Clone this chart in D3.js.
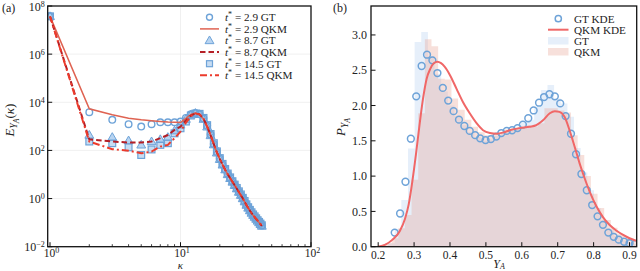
<!DOCTYPE html>
<html><head><meta charset="utf-8">
<script src="https://cdn.jsdelivr.net/npm/d3@7"></script>
<style>
body{margin:0;background:#fff}
svg{display:block}
text{font-family:"Liberation Serif","DejaVu Serif",serif;fill:#222}
</style>
</head><body>
<svg id="c" width="640" height="271"></svg>
<script>
// ---------- Panel (a) data: log10 E_{Y_A}(kappa) ----------
const kappa = [1,2,3,4,5,6,7,8,9,10,11,12,13,14,15,16,17,18,19,20,21,22,23,24,25,26,27,28,29,30,31,32,33,34,35,36,37,38,39,40,41,42];
const gt29 = [7.57,3.59,3.27,3.09,2.99,3.09,3.17,3.17,3.17,3.2,3.35,3.5,3.55,3.5,3.33,3.02,2.66,2.27,1.93,1.66,1.42,1.21,1.02,0.86,0.71,0.56,0.42,0.28,0.15,0.02,-0.12,-0.26,-0.38,-0.49,-0.59,-0.68,-0.76,-0.84,-0.91,-0.98,-1.05,-1.12];
const gt87 = [7.57,2.64,2.55,2.41,2.23,2.37,2.46,2.55,2.82,3.06,3.3,3.48,3.55,3.5,3.3,2.98,2.62,2.24,1.9,1.63,1.4,1.2,1.0,0.84,0.69,0.55,0.41,0.27,0.14,0.0,-0.13,-0.27,-0.39,-0.5,-0.6,-0.69,-0.77,-0.85,-0.93,-1.0,-1.07,-1.14];
const gt145 = [7.57,2.37,2.3,2.13,1.81,2.04,2.23,2.3,2.71,2.92,3.2,3.45,3.53,3.52,3.35,3.05,2.68,2.3,1.96,1.68,1.44,1.23,1.04,0.88,0.72,0.58,0.44,0.3,0.17,0.03,-0.1,-0.24,-0.36,-0.47,-0.57,-0.66,-0.74,-0.82,-0.9,-0.97,-1.04,-1.11];
const qkm29 = [7.57,3.73,3.48,3.34,3.27,3.23,3.2,3.18,3.17,3.16,3.33,3.5,3.55,3.5,3.3,2.98,2.62,2.25,1.92,1.65,1.41,1.2,1.01,0.85,0.7,0.55,0.41,0.27,0.14,0.01,-0.13,-0.27,-0.39,-0.5,-0.6,-0.69,-0.77,-0.85,-0.92,-0.99,-1.06,-1.13];
const qkm87 = [7.57,2.46,2.37,2.33,2.33,2.37,2.51,2.64,2.85,2.99,3.25,3.45,3.53,3.5,3.32,3.0,2.64,2.26,1.92,1.65,1.41,1.2,1.01,0.85,0.7,0.55,0.41,0.27,0.14,0.01,-0.13,-0.27,-0.39,-0.5,-0.6,-0.69,-0.77,-0.85,-0.92,-0.99,-1.06,-1.14];
const qkm145 = [7.57,2.37,2.05,1.99,1.88,1.95,2.16,2.23,2.51,2.78,3.15,3.42,3.53,3.5,3.32,3.0,2.64,2.26,1.92,1.65,1.41,1.2,1.01,0.85,0.7,0.55,0.41,0.27,0.14,0.01,-0.13,-0.27,-0.39,-0.5,-0.6,-0.69,-0.77,-0.85,-0.92,-0.99,-1.06,-1.15];
const aXTickExp = [0,1,2];
const aYTickExp = [-2,0,2,4,6,8];
const aLegend = ["2.9 GT","2.9 QKM","8.7 GT","8.7 QKM","14.5 GT","14.5 QKM"];

// ---------- Panel (b) data ----------
const gtEdges = [0.2275,0.246,0.2645,0.283,0.3015,0.32,0.3385,0.357,0.3755,0.394,0.4125,0.431,0.4495,0.468,0.4865,0.505,0.5235,0.542,0.5605,0.579,0.5975,0.616,0.6345,0.653,0.6715,0.69,0.7085,0.727,0.7455,0.764,0.7825,0.801,0.8195,0.838,0.8565,0.875,0.8935,0.912,0.9305];
const gtHist = [0.05,0.25,0.66,1.39,2.9,3.04,2.7,2.45,2.2,2.0,1.85,1.72,1.62,1.55,1.5,1.52,1.57,1.62,1.66,1.68,1.76,1.8,1.98,2.22,2.29,2.1,2.03,1.84,1.4,1.05,0.8,0.55,0.38,0.25,0.15,0.09,0.06,0.04];
const qkmEdges = [0.2005,0.219,0.2375,0.256,0.2745,0.293,0.3115,0.33,0.3485,0.367,0.3855,0.404,0.4225,0.441,0.4595,0.478,0.4965,0.515,0.5335,0.552,0.5705,0.589,0.6075,0.626,0.6445,0.663,0.6815,0.7,0.7185,0.737,0.7555,0.774,0.7925,0.811,0.8295,0.848,0.8665,0.885,0.9035,0.922];
const qkmHist = [0.02,0.05,0.12,0.26,0.45,0.95,1.89,2.94,2.84,2.38,2.37,2.1,1.94,1.8,1.7,1.62,1.58,1.6,1.62,1.66,1.68,1.7,1.72,1.7,1.75,1.96,1.96,1.93,1.9,1.58,1.3,1.0,0.75,0.55,0.38,0.27,0.18,0.12,0.08];
const gtKdeX = [0.246,0.261,0.276,0.291,0.306,0.321,0.336,0.351,0.365,0.380,0.395,0.410,0.425,0.440,0.455,0.470,0.484,0.499,0.514,0.529,0.543,0.558,0.573,0.588,0.603,0.618,0.633,0.648,0.662,0.677,0.692,0.707,0.722,0.737,0.751,0.766,0.781,0.796,0.811,0.826,0.841,0.856,0.870,0.885,0.900,0.915];
const gtKdeY = [0.20,0.47,0.92,1.53,2.13,2.56,2.72,2.64,2.46,2.25,2.07,1.92,1.80,1.71,1.64,1.58,1.535,1.51,1.525,1.56,1.61,1.64,1.65,1.68,1.73,1.82,1.93,2.04,2.12,2.16,2.13,2.03,1.85,1.60,1.31,1.03,0.80,0.59,0.43,0.31,0.20,0.14,0.10,0.07,0.05,0.04];
const qkmKdeX = [0.20,0.22,0.24,0.26,0.275,0.285,0.295,0.305,0.315,0.325,0.335,0.345,0.355,0.365,0.375,0.385,0.40,0.418,0.436,0.455,0.474,0.492,0.511,0.53,0.55,0.566,0.594,0.622,0.64,0.659,0.678,0.692,0.705,0.719,0.733,0.747,0.761,0.775,0.789,0.807,0.826,0.844,0.863,0.881,0.90,0.918];
const qkmKdeY = [0.0,0.03,0.1,0.22,0.4,0.6,0.92,1.3,1.72,2.1,2.38,2.52,2.6,2.62,2.6,2.55,2.43,2.24,2.05,1.89,1.75,1.65,1.61,1.60,1.62,1.65,1.68,1.70,1.72,1.79,1.89,1.92,1.91,1.84,1.65,1.42,1.18,0.97,0.78,0.58,0.42,0.31,0.23,0.17,0.12,0.085];
const bXTicks = [0.2,0.3,0.4,0.5,0.6,0.7,0.8,0.9];
const bYTicks = [0,0.5,1.0,1.5,2.0,2.5,3.0];
const bLegend = ["GT KDE","QKM KDE","GT","QKM"];

// ---------- styles ----------
const BLUE = "#6ea3d8", BLUE_FILL = "rgba(130,178,226,0.45)";
const C29 = "#df6352", C87 = "#b51f26", C145 = "#ec3b2c";
const KDE_RED = "#f06767";
const GT_HIST = "#e6effa", QKM_HIST = "rgba(232,165,150,0.34)";

const svg = d3.select("#c");
const E = v => Math.pow(10, v);

// ================= Panel (a) =================
const aL = 47.7, aR = 311, aT = 6, aB = 246.7;
const xA = d3.scaleLog().domain([0.96, 100]).range([aL, aR]);
const yA = d3.scaleLog().domain([1e-2, 1e8]).range([aB, aT]);
const gA = svg.append("g");

// grid
gA.selectAll("line.gx").data([10]).join("line")
  .attr("x1", d => xA(d)).attr("x2", d => xA(d)).attr("y1", aT).attr("y2", aB)
  .attr("stroke", "#ececec").attr("stroke-width", 0.8);
gA.selectAll("line.gy").data([0,2,4,6]).join("line")
  .attr("y1", d => yA(E(d))).attr("y2", d => yA(E(d))).attr("x1", aL).attr("x2", aR)
  .attr("stroke", "#ececec").attr("stroke-width", 0.8);

svg.append("clipPath").attr("id", "clipA").append("rect")
  .attr("x", aL).attr("y", aT).attr("width", aR - aL).attr("height", aB - aT);
const plotA = gA.append("g").attr("clip-path", "url(#clipA)");

const pts = arr => arr.map((v, i) => [kappa[i], E(v)]);

// markers
plotA.append("g").selectAll("rect").data(pts(gt145)).join("rect")
  .attr("x", d => xA(d[0]) - 3.4).attr("y", d => yA(d[1]) - 3.4)
  .attr("width", 6.8).attr("height", 6.8)
  .attr("fill", BLUE_FILL).attr("stroke", BLUE).attr("stroke-width", 1.2);
const tri = d3.symbol().type(d3.symbolTriangle).size(34);
plotA.append("g").selectAll("path").data(pts(gt87)).join("path")
  .attr("d", tri).attr("transform", d => `translate(${xA(d[0])},${yA(d[1]) + 0.6})`)
  .attr("fill", "rgba(160,198,236,0.75)").attr("stroke", BLUE).attr("stroke-width", 1);
plotA.append("g").selectAll("circle").data(pts(gt29)).join("circle")
  .attr("cx", d => xA(d[0])).attr("cy", d => yA(d[1])).attr("r", 3.3)
  .attr("fill", "none").attr("stroke", BLUE).attr("stroke-width", 1.4);

// lines
const lineA = d3.line().x(d => xA(d[0])).y(d => yA(d[1]));
plotA.append("path").attr("d", lineA(pts(qkm29))).attr("fill", "none")
  .attr("stroke", C29).attr("stroke-width", 1.5);
plotA.append("path").attr("d", lineA(pts(qkm87))).attr("fill", "none")
  .attr("stroke", C87).attr("stroke-width", 2).attr("stroke-dasharray", "5.5,3");
plotA.append("path").attr("d", lineA(pts(qkm145))).attr("fill", "none")
  .attr("stroke", C145).attr("stroke-width", 2).attr("stroke-dasharray", "7,3,2,3");

// frame
gA.append("rect").attr("x", aL).attr("y", aT).attr("width", aR - aL).attr("height", aB - aT)
  .attr("fill", "none").attr("stroke", "#111").attr("stroke-width", 1.3);

// x ticks (major + minor)
const minorX = [];
[1, 10].forEach(b => { for (let m = 2; m <= 9; m++) minorX.push(b * m); });
gA.selectAll("line.mx").data(minorX).join("line")
  .attr("x1", d => xA(d)).attr("x2", d => xA(d)).attr("y1", aB).attr("y2", aB - 2.5)
  .attr("stroke", "#111").attr("stroke-width", 0.8);
gA.selectAll("line.Mx").data(aXTickExp).join("line")
  .attr("x1", d => xA(E(d))).attr("x2", d => xA(E(d))).attr("y1", aB).attr("y2", aB - 4.5)
  .attr("stroke", "#111").attr("stroke-width", 1);
gA.selectAll("line.My").data(aYTickExp).join("line")
  .attr("y1", d => yA(E(d))).attr("y2", d => yA(E(d))).attr("x1", aL).attr("x2", aL + 4.5)
  .attr("stroke", "#111").attr("stroke-width", 1);

function pow10Label(sel, e) {
  sel.append("tspan").text("10");
  sel.append("tspan").attr("dy", -3.8).attr("font-size", 8).text(e < 0 ? "\u2212" + (-e) : String(e));
}
aXTickExp.forEach(e => {
  const t = gA.append("text").attr("x", xA(E(e)) + 1.5).attr("y", 256.6)
    .attr("text-anchor", "middle").attr("font-size", 11.5);
  pow10Label(t, e);
});
aYTickExp.forEach(e => {
  const t = gA.append("text").attr("x", aL - 3).attr("y", yA(E(e)) + (e === 8 ? 5.2 : 4.5))
    .attr("text-anchor", "end").attr("font-size", 12);
  pow10Label(t, e);
});

// axis labels
gA.append("text").attr("x", xA(10)).attr("y", 268.9).attr("text-anchor", "middle")
  .attr("font-size", 11).attr("font-style", "italic").text("\u03BA");
{
  const t = gA.append("text").attr("transform", `translate(14,120) rotate(-90)`)
    .attr("text-anchor", "middle").attr("font-size", 13);
  t.append("tspan").attr("font-style", "italic").text("E");
  t.append("tspan").attr("font-style", "italic").attr("font-size", 9.5).attr("dy", 3).text("Y");
  t.append("tspan").attr("font-style", "italic").attr("font-size", 7.5).attr("dy", 2).text("A");
  t.append("tspan").attr("dy", -5).text("(");
  t.append("tspan").attr("font-style", "italic").text("\u03BA");
  t.append("tspan").text(")");
}
svg.append("text").attr("x", 2).attr("y", 12).attr("font-size", 12).text("(a)");

// legend (a)
const legA = gA.append("g");
aLegend.forEach((lab, i) => {
  const y = 17.3 + 11.6 * i;
  const t = legA.append("text").attr("x", 225).attr("y", y + 3.8).attr("font-size", 11.2);
  t.append("tspan").attr("font-style", "italic").text("t");
  t.append("tspan").attr("dy", -4).attr("font-size", 8).text("*");
  t.append("tspan").attr("dy", 4).text(" = " + lab);
});
legA.append("circle").attr("cx", 209.5).attr("cy", 17.3).attr("r", 3)
  .attr("fill", "none").attr("stroke", BLUE).attr("stroke-width", 1.4);
legA.append("line").attr("x1", 200).attr("x2", 219).attr("y1", 28.9).attr("y2", 28.9)
  .attr("stroke", C29).attr("stroke-width", 1.5);
legA.append("path").attr("d", tri).attr("transform", `translate(209.5,${40.5 + 0.6})`)
  .attr("fill", "rgba(160,198,236,0.75)").attr("stroke", BLUE).attr("stroke-width", 1);
legA.append("line").attr("x1", 200).attr("x2", 219).attr("y1", 52.1).attr("y2", 52.1)
  .attr("stroke", C87).attr("stroke-width", 2).attr("stroke-dasharray", "5.5,3");
legA.append("rect").attr("x", 206.5).attr("y", 60.7).attr("width", 6).attr("height", 6)
  .attr("fill", BLUE_FILL).attr("stroke", BLUE).attr("stroke-width", 1.2);
legA.append("line").attr("x1", 200).attr("x2", 219).attr("y1", 75.3).attr("y2", 75.3)
  .attr("stroke", C145).attr("stroke-width", 2).attr("stroke-dasharray", "7,3,2,3");

// ================= Panel (b) =================
const bL = 371, bR = 636.7, bT = 6, bB = 246.7;
const xB = d3.scaleLinear().domain([0.18, 0.92]).range([bL, bR]);
const yB = d3.scaleLinear().domain([0, 3.41]).range([bB, bT]);
const gB = svg.append("g");
svg.append("clipPath").attr("id", "clipB").append("rect")
  .attr("x", bL).attr("y", bT).attr("width", bR - bL).attr("height", bB - bT);
const plotB = gB.append("g").attr("clip-path", "url(#clipB)");

const stepArea = d3.area().curve(d3.curveStepAfter)
  .x(d => xB(d[0])).y0(yB(0)).y1(d => yB(d[1]));
const histPts = (edges, h) => edges.map((e, i) => [e, i < h.length ? h[i] : h[h.length - 1]]);
plotB.append("path").attr("d", stepArea(histPts(gtEdges, gtHist))).attr("fill", GT_HIST);
plotB.append("path").attr("d", stepArea(histPts(qkmEdges, qkmHist))).attr("fill", QKM_HIST);

plotB.append("g").selectAll("circle").data(gtKdeX.map((x, i) => [x, gtKdeY[i]])).join("circle")
  .attr("cx", d => xB(d[0])).attr("cy", d => yB(d[1])).attr("r", 3.4)
  .attr("fill", "none").attr("stroke", BLUE).attr("stroke-width", 1.5);

const lineB = d3.line().curve(d3.curveMonotoneX).x(d => xB(d[0])).y(d => yB(d[1]));
plotB.append("path").attr("d", lineB(qkmKdeX.map((x, i) => [x, qkmKdeY[i]])))
  .attr("fill", "none").attr("stroke", KDE_RED).attr("stroke-width", 2);

gB.append("rect").attr("x", bL).attr("y", bT).attr("width", bR - bL).attr("height", bB - bT)
  .attr("fill", "none").attr("stroke", "#111").attr("stroke-width", 1.3);

gB.selectAll("line.bx").data(bXTicks).join("line")
  .attr("x1", d => xB(d)).attr("x2", d => xB(d)).attr("y1", bB).attr("y2", bB - 4.5)
  .attr("stroke", "#111").attr("stroke-width", 1);
gB.selectAll("line.by").data(bYTicks).join("line")
  .attr("y1", d => yB(d)).attr("y2", d => yB(d)).attr("x1", bL).attr("x2", bL + 4.5)
  .attr("stroke", "#111").attr("stroke-width", 1);
gB.selectAll("text.bx").data(bXTicks).join("text")
  .attr("x", d => xB(d)).attr("y", 258.5).attr("text-anchor", "middle").attr("font-size", 11.5)
  .text(d => d.toFixed(1));
gB.selectAll("text.by").data(bYTicks).join("text")
  .attr("x", bL - 4).attr("y", d => yB(d) + 4.2).attr("text-anchor", "end").attr("font-size", 12)
  .text(d => d.toFixed(1));

{
  const t = gB.append("text").attr("x", 499).attr("y", 267.5).attr("text-anchor", "middle")
    .attr("font-size", 12);
  t.append("tspan").attr("font-style", "italic").text("Y");
  t.append("tspan").attr("font-style", "italic").attr("font-size", 8).attr("dy", 1.5).text("A");
}
{
  const t = gB.append("text").attr("transform", `translate(345,127) rotate(-90)`)
    .attr("text-anchor", "middle").attr("font-size", 13);
  t.append("tspan").attr("font-style", "italic").text("P");
  t.append("tspan").attr("font-style", "italic").attr("font-size", 9.5).attr("dy", 3).text("Y");
  t.append("tspan").attr("font-style", "italic").attr("font-size", 7.5).attr("dy", 2).text("A");
}
svg.append("text").attr("x", 333).attr("y", 12).attr("font-size", 12).text("(b)");

// legend (b)
const legB = gB.append("g");
bLegend.forEach((lab, i) => {
  legB.append("text").attr("x", 574).attr("y", 19 + 11 * i + 3.8).attr("font-size", 11.2).text(lab);
});
legB.append("circle").attr("cx", 558.3).attr("cy", 18.7).attr("r", 3.1)
  .attr("fill", "none").attr("stroke", BLUE).attr("stroke-width", 1.5);
legB.append("line").attr("x1", 548).attr("x2", 568.5).attr("y1", 29.7).attr("y2", 29.7)
  .attr("stroke", KDE_RED).attr("stroke-width", 2);
legB.append("rect").attr("x", 548).attr("y", 37).attr("width", 20.5).attr("height", 7.5).attr("fill", GT_HIST);
legB.append("rect").attr("x", 548).attr("y", 48).attr("width", 20.5).attr("height", 7.5).attr("fill", QKM_HIST);
</script>
</body></html>
